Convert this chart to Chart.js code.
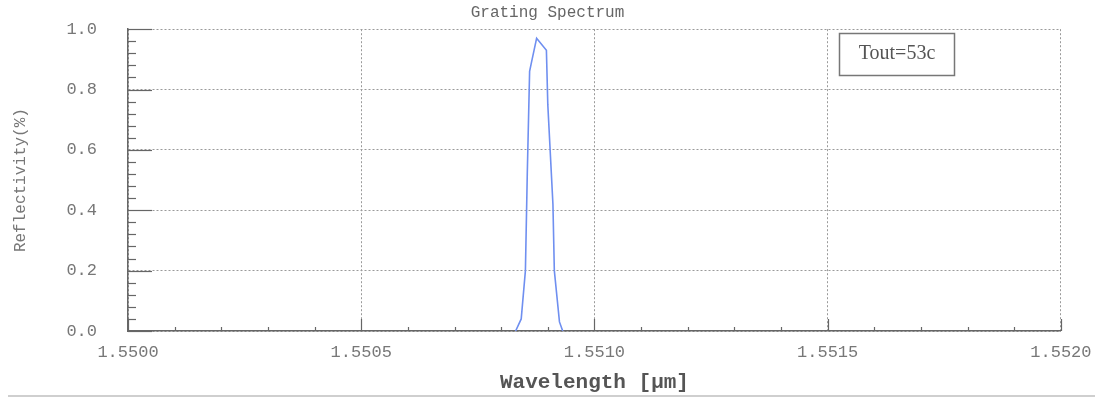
<!DOCTYPE html>
<html>
<head>
<meta charset="utf-8">
<script src="https://cdn.jsdelivr.net/npm/chart.js@4"></script>
<style>
  html, body { margin: 0; padding: 0; background: #fff; }
  #wrap { width: 1095px; height: 401px; position: relative; }
</style>
</head>
<body>
<div id="wrap"><canvas id="spec"></canvas></div>
<script>
// Grating spectrum data
const wavelengths = [1.550831, 1.550843, 1.550852, 1.550856, 1.550861, 1.550865, 1.550876,
                     1.550897, 1.550900, 1.550911, 1.550914, 1.550925, 1.550932];
const reflectivity = [0, 0.04, 0.20, 0.52, 0.86, 0.89, 0.97, 0.93, 0.75, 0.42, 0.20, 0.03, 0];

const xTicks = [1.5500, 1.5505, 1.5510, 1.5515, 1.5520];
const yTicks = [0.0, 0.2, 0.4, 0.6, 0.8, 1.0];
const legendText = 'Tout=53c';

const MONO = "'Liberation Mono', 'Courier New', monospace";

// inner tick marks + legend box + bottom rule
const decorPlugin = {
    id: 'decor',
    afterDraw(chart) {
        const ctx = chart.ctx;
        const xs = chart.scales.x, ys = chart.scales.y;
        const area = chart.chartArea;
        ctx.save();
        ctx.strokeStyle = '#666';
        ctx.lineWidth = 1.2;
        // y ticks, 5 minor per major
        for (let i = 0; i <= 25; i++) {
            const py = Math.round(ys.getPixelForValue(i * 0.04)) + 0.5;
            const len = i % 5 === 0 ? 24 : 8;
            ctx.beginPath();
            ctx.moveTo(area.left, py);
            ctx.lineTo(area.left + len, py);
            ctx.stroke();
        }
        // x ticks
        for (let i = 0; i <= 20; i++) {
            const px = Math.round(xs.getPixelForValue(1.55 + i * 0.0001)) + 0.5;
            const len = i % 5 === 0 ? 12 : 4;
            ctx.beginPath();
            ctx.moveTo(px, area.bottom);
            ctx.lineTo(px, area.bottom - len);
            ctx.stroke();
        }
        // legend box
        ctx.strokeStyle = '#777';
        ctx.lineWidth = 1.5;
        ctx.strokeRect(839.5, 33.5, 115, 42);
        ctx.fillStyle = '#555';
        ctx.font = "20px 'Liberation Serif', serif";
        ctx.textAlign = 'center';
        ctx.textBaseline = 'middle';
        ctx.fillText(legendText, 897, 54);
        // rule under the figure
        ctx.fillStyle = '#cfcfcf';
        ctx.fillRect(8, 395, 1087, 2);
        ctx.restore();
    }
};

window.onload = () => {
    const points = wavelengths.map((w, i) => ({ x: w, y: reflectivity[i] }));

    new Chart(document.getElementById('spec'), {
        type: 'line',
        data: {
            datasets: [{
                data: points,
                borderColor: '#6f8ff0',
                borderWidth: 1.6,
                pointRadius: 0,
                tension: 0,
                fill: false
            }]
        },
        options: {
            responsive: true,
            maintainAspectRatio: false,
            animation: false,
            layout: { padding: { top: 0, right: 0, bottom: 0, left: 0 } },
            plugins: {
                legend: { display: false },
                tooltip: { enabled: false },
                title: {
                    display: true,
                    text: 'Grating Spectrum',
                    color: '#666',
                    font: { family: MONO, size: 16, weight: 'normal' },
                    padding: { top: 3, bottom: 7 }
                }
            },
            scales: {
                x: {
                    type: 'linear',
                    min: 1.55, max: 1.552,
                    afterBuildTicks: s => { s.ticks = xTicks.map(v => ({ value: v })); },
                    afterFit: s => { s.height = 70; },
                    ticks: {
                        color: '#777',
                        font: { family: MONO, size: 17 },
                        padding: 3.5,
                        maxRotation: 0,
                        autoSkip: false,
                        callback: v => Number(v).toFixed(4)
                    },
                    grid: { color: '#9a9a9a', lineWidth: 1, drawTicks: true, tickLength: 8, tickColor: 'rgba(0,0,0,0)' },
                    border: { display: true, color: '#666', width: 1.5, dash: [2, 2] },
                    title: {
                        display: true,
                        text: 'Wavelength [µm]',
                        color: '#555',
                        font: { family: MONO, size: 21, weight: 'bold' },
                        padding: { top: 0, bottom: 6 }
                    }
                },
                y: {
                    type: 'linear',
                    min: 0, max: 1,
                    afterBuildTicks: s => { s.ticks = yTicks.map(v => ({ value: v })); },
                    afterFit: s => { s.width = 128; },
                    ticks: {
                        color: '#777',
                        font: { family: MONO, size: 17 },
                        padding: 3,
                        callback: v => Number(v).toFixed(1)
                    },
                    grid: { color: '#9a9a9a', lineWidth: 1, drawTicks: true, tickLength: 28, tickColor: 'rgba(0,0,0,0)' },
                    border: { display: true, color: '#666', width: 1.5, dash: [2, 2] },
                    title: {
                        display: true,
                        text: 'Reflectivity(%)',
                        color: '#777',
                        font: { family: MONO, size: 16, weight: 'normal' },
                        padding: { top: 11, bottom: 0 }
                    }
                }
            }
        },
        plugins: [decorPlugin]
    });
};
</script>
</body>
</html>
